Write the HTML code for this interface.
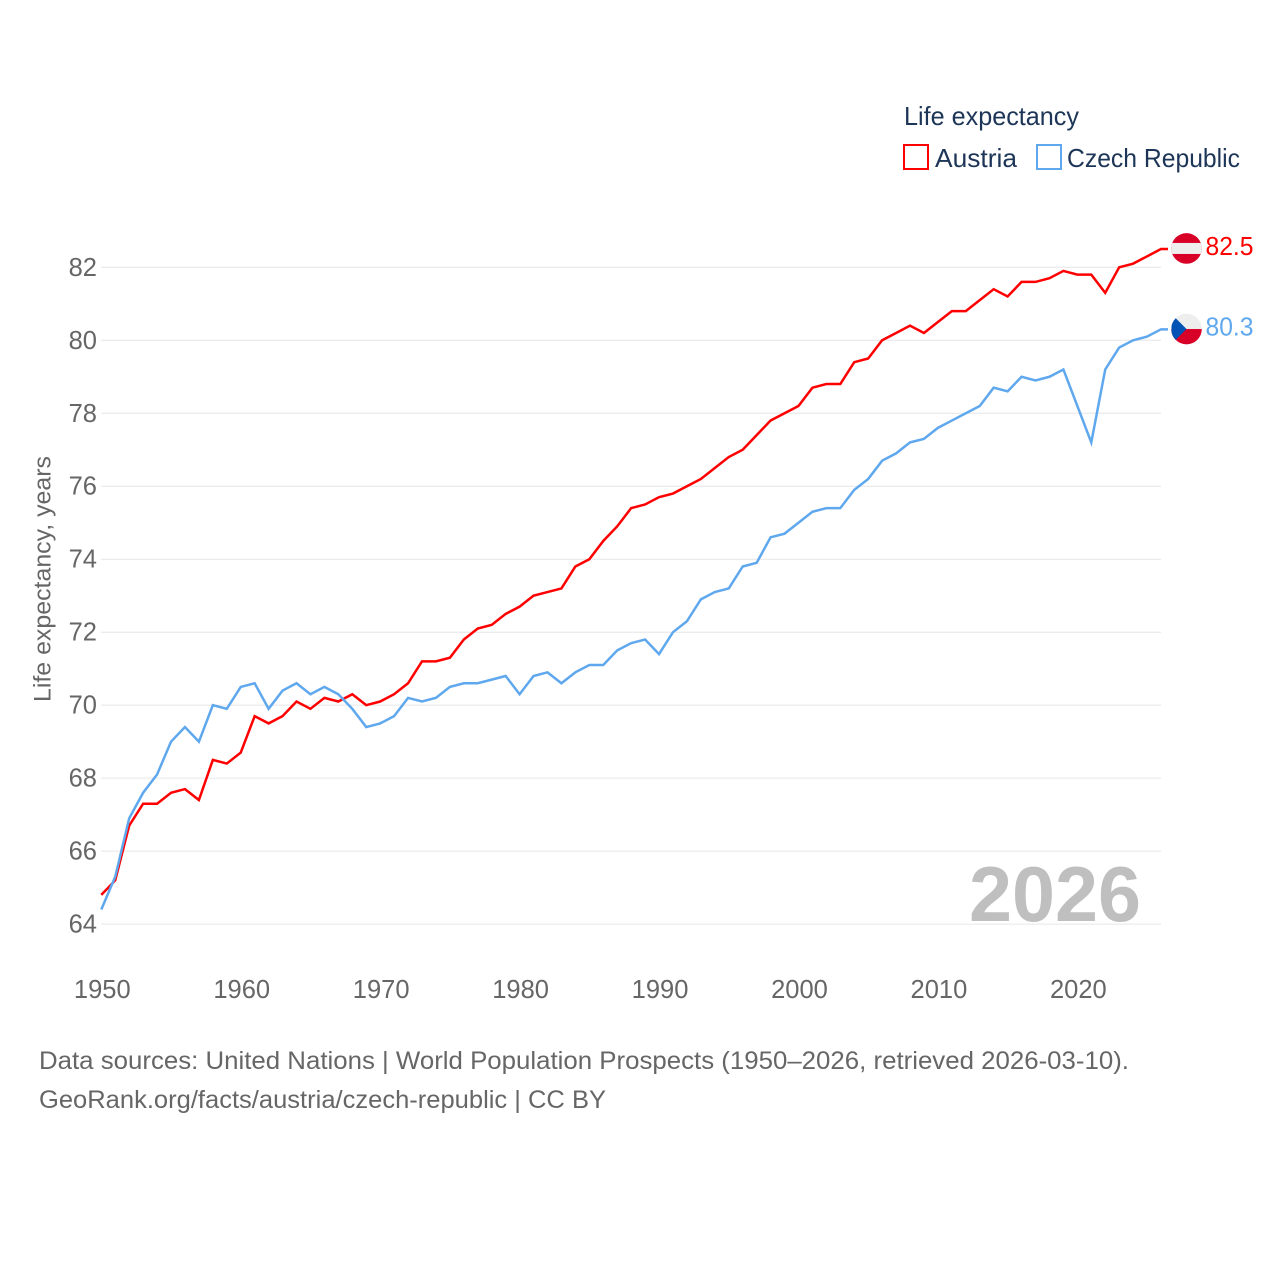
<!DOCTYPE html>
<html lang="en">
<head>
<meta charset="utf-8">
<title>Life expectancy: Austria and Czech Republic</title>
<style>
html,body{margin:0;padding:0;background:#fff;width:1280px;height:1280px;overflow:hidden}
svg{display:block;font-family:"Liberation Sans",sans-serif}
</style>
</head>
<body>
<svg id="chart" xmlns="http://www.w3.org/2000/svg" width="1280" height="1280" viewBox="0 0 1280 1280">
  <defs>
    <clipPath id="at-clip"><circle id="at-clip-circle" r="15.3"></circle></clipPath>
    <clipPath id="cz-clip"><circle id="cz-clip-circle" r="15.3"></circle></clipPath>
  </defs>
  <g id="grid"></g>
  <g id="yticks"></g>
  <g id="xticks"></g>
  <text transform="translate(50.5,702) rotate(-90)" font-size="24" fill="#666" textLength="246" lengthAdjust="spacingAndGlyphs">Life expectancy, years</text>
  <text x="969" y="921" font-size="78" font-weight="700" fill="#bfbfbf" textLength="172" lengthAdjust="spacingAndGlyphs">2026</text>
  <g id="series"></g>
  <g id="end-markers"></g>
  <g>
    <text x="904" y="125" font-size="26" fill="#1d3557" textLength="175" lengthAdjust="spacingAndGlyphs">Life expectancy</text>
    <g>
      <rect x="904" y="145" width="24" height="24" fill="#fff" stroke="#ff0000" stroke-width="2"></rect>
      <text x="935" y="167" font-size="26" fill="#1d3557" textLength="82" lengthAdjust="spacingAndGlyphs">Austria</text>
    </g>
    <g>
      <rect x="1037" y="145" width="24" height="24" fill="#fff" stroke="#5fa8ee" stroke-width="2"></rect>
      <text x="1067" y="167" font-size="26" fill="#1d3557" textLength="173" lengthAdjust="spacingAndGlyphs">Czech Republic</text>
    </g>
  </g>
  <text x="39" y="1069" font-size="25" fill="#666" textLength="1090" lengthAdjust="spacingAndGlyphs">Data sources: United Nations | World Population Prospects (1950–2026, retrieved 2026-03-10).</text>
  <text x="39" y="1108" font-size="25" fill="#666" textLength="567" lengthAdjust="spacingAndGlyphs">GeoRank.org/facts/austria/czech-republic | CC BY</text>
</svg>
<script>
const years = [1950,1951,1952,1953,1954,1955,1956,1957,1958,1959,1960,1961,1962,1963,1964,1965,1966,1967,1968,1969,1970,1971,1972,1973,1974,1975,1976,1977,1978,1979,1980,1981,1982,1983,1984,1985,1986,1987,1988,1989,1990,1991,1992,1993,1994,1995,1996,1997,1998,1999,2000,2001,2002,2003,2004,2005,2006,2007,2008,2009,2010,2011,2012,2013,2014,2015,2016,2017,2018,2019,2020,2021,2022,2023,2024,2025,2026];
const austria = [64.8,65.2,66.7,67.3,67.3,67.6,67.7,67.4,68.5,68.4,68.7,69.7,69.5,69.7,70.1,69.9,70.2,70.1,70.3,70.0,70.1,70.3,70.6,71.2,71.2,71.3,71.8,72.1,72.2,72.5,72.7,73.0,73.1,73.2,73.8,74.0,74.5,74.9,75.4,75.5,75.7,75.8,76.0,76.2,76.5,76.8,77.0,77.4,77.8,78.0,78.2,78.7,78.8,78.8,79.4,79.5,80.0,80.2,80.4,80.2,80.5,80.8,80.8,81.1,81.4,81.2,81.6,81.6,81.7,81.9,81.8,81.8,81.3,82.0,82.1,82.3,82.5];
const czechRepublic = [64.4,65.3,66.9,67.6,68.1,69.0,69.4,69.0,70.0,69.9,70.5,70.6,69.9,70.4,70.6,70.3,70.5,70.3,69.9,69.4,69.5,69.7,70.2,70.1,70.2,70.5,70.6,70.6,70.7,70.8,70.3,70.8,70.9,70.6,70.9,71.1,71.1,71.5,71.7,71.8,71.4,72.0,72.3,72.9,73.1,73.2,73.8,73.9,74.6,74.7,75.0,75.3,75.4,75.4,75.9,76.2,76.7,76.9,77.2,77.3,77.6,77.8,78.0,78.2,78.7,78.6,79.0,78.9,79.0,79.2,78.2,77.2,79.2,79.8,80.0,80.1,80.3];
const yTickValues = [64,66,68,70,72,74,76,78,80,82];
const xTickValues = [1950,1960,1970,1980,1990,2000,2010,2020];

const NS = 'http://www.w3.org/2000/svg';
const xScale = function (year) { return 101.3 + (year - 1950) * (1161 - 101.3) / 76; };
const yScale = function (value) { return 924.1 - (value - 64) * (924.1 - 267.3) / 18; };

const gridGroup = document.getElementById('grid');
const yTickGroup = document.getElementById('yticks');
yTickValues.forEach(function (value) {
  const gridLine = document.createElementNS(NS, 'line');
  
  
  gridLine.setAttribute('x1', 101);
  gridLine.setAttribute('x2', 1161);
  gridLine.setAttribute('y1', yScale(value));
  gridLine.setAttribute('y2', yScale(value));
  gridLine.setAttribute('stroke', '#e6e6e6');
  gridLine.setAttribute('stroke-width', '1');
  gridGroup.appendChild(gridLine);

  const label = document.createElementNS(NS, 'text');
  
  
  label.setAttribute('x', 97);
  label.setAttribute('y', yScale(value) + 8.5);
  label.setAttribute('text-anchor', 'end');
  label.setAttribute('font-size', '25.5');
  label.setAttribute('fill', '#666');
  label.textContent = String(value);
  yTickGroup.appendChild(label);
});

const xTickGroup = document.getElementById('xticks');
xTickValues.forEach(function (year) {
  const label = document.createElementNS(NS, 'text');
  
  
  label.setAttribute('x', xScale(year) + 1);
  label.setAttribute('y', 998);
  label.setAttribute('text-anchor', 'middle');
  label.setAttribute('font-size', '25.5');
  label.setAttribute('fill', '#666');
  label.textContent = String(year);
  xTickGroup.appendChild(label);
});

const seriesGroup = document.getElementById('series');
function drawLine(values, color, name) {
  const last = values[values.length - 1];
  const points = values.map(function (value, i) {
    return xScale(years[i]).toFixed(2) + ',' + yScale(value).toFixed(2);
  });
  points.push((xScale(years[years.length - 1]) + 7).toFixed(2) + ',' + yScale(last).toFixed(2));
  const line = document.createElementNS(NS, 'polyline');
  
  
  line.setAttribute('points', points.join(' '));
  line.setAttribute('fill', 'none');
  line.setAttribute('stroke', color);
  line.setAttribute('stroke-width', '2.5');
  line.setAttribute('stroke-linejoin', 'miter');
  seriesGroup.appendChild(line);
}
drawLine(austria, '#ff0000', 'line-austria');
drawLine(czechRepublic, '#5fa8ee', 'line-czech-republic');

const markerGroup = document.getElementById('end-markers');
function addShape(parent, tag, attrs) {
  const shape = document.createElementNS(NS, tag);
  Object.keys(attrs).forEach(function (key) { shape.setAttribute(key, attrs[key]); });
  parent.appendChild(shape);
  return shape;
}
function drawValue(value, color, name) {
  const label = document.createElementNS(NS, 'text');
  
  
  label.setAttribute('x', 1205.5);
  label.setAttribute('y', yScale(value) + 6);
  label.setAttribute('font-size', '25.5');
  label.setAttribute('fill', color);
  label.setAttribute('textLength', '48');
  label.setAttribute('lengthAdjust', 'spacingAndGlyphs');
  label.textContent = value.toFixed(1);
  markerGroup.appendChild(label);
}

const fx = 1186.5;
const atY = yScale(austria[austria.length - 1]) - 0.6;
const czY = yScale(czechRepublic[czechRepublic.length - 1]) - 0.3;
document.getElementById('at-clip-circle').setAttribute('cx', fx);
document.getElementById('at-clip-circle').setAttribute('cy', atY);
document.getElementById('cz-clip-circle').setAttribute('cx', fx);
document.getElementById('cz-clip-circle').setAttribute('cy', czY);

const atFlag = document.createElementNS(NS, 'g');


atFlag.setAttribute('clip-path', 'url(#at-clip)');
addShape(atFlag, 'rect', { x: fx - 16, y: atY - 16, width: 32, height: 32, fill: '#d80027' });
addShape(atFlag, 'rect', { x: fx - 16, y: atY - 5.5, width: 32, height: 11, fill: '#eeeeee' });
markerGroup.appendChild(atFlag);

const czFlag = document.createElementNS(NS, 'g');


czFlag.setAttribute('clip-path', 'url(#cz-clip)');
addShape(czFlag, 'rect', { x: fx - 16, y: czY - 16, width: 32, height: 16, fill: '#eeeeee' });
addShape(czFlag, 'rect', { x: fx - 16, y: czY, width: 32, height: 16, fill: '#d80027' });
addShape(czFlag, 'polygon', {
  points: (fx - 15) + ',' + (czY - 15) + ' ' + fx + ',' + czY + ' ' + (fx - 15) + ',' + (czY + 15),
  fill: '#0052b4'
});
markerGroup.appendChild(czFlag);

drawValue(austria[austria.length - 1], '#ff0000', 'end-value-austria');
drawValue(czechRepublic[czechRepublic.length - 1], '#5fa8ee', 'end-value-czech-republic');
</script>
</body>
</html>
